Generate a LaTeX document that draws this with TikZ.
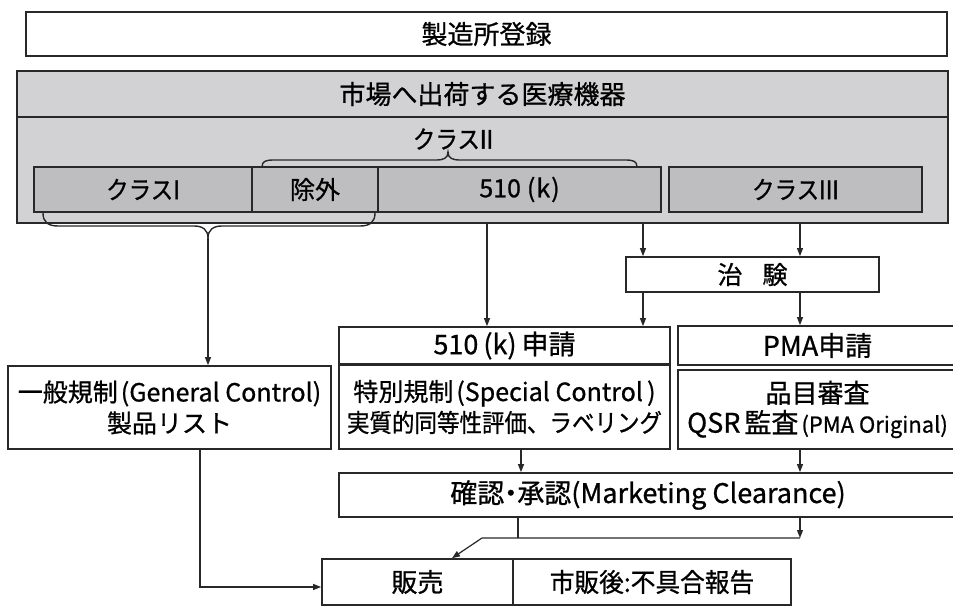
\documentclass[tikz,border=0pt]{standalone}
\usepackage{graphicx}
\usepackage{fontspec}
\setmainfont[FakeBold=0.8]{Noto Sans CJK JP}
\newfontfamily\romfont[FakeBold=2]{Noto Sans CJK JP}
\usetikzlibrary{arrows.meta,calc}
\definecolor{lineC}{RGB}{40,40,40}
\definecolor{grayA}{RGB}{210,210,212}
\definecolor{grayB}{RGB}{190,190,192}
\newcommand\fsz[2]{\fontsize{#1}{#2}\selectfont}
\newcommand\lp{\hspace{3pt}(}
\newcommand\rp{)}
\tikzset{
  wbox/.style={draw=lineC, line width=1.7pt, fill=white, inner sep=0pt, align=center},
  gbox/.style={draw=lineC, line width=1.7pt, fill=grayA, inner sep=0pt, align=center},
  ibox/.style={draw=lineC, line width=1.5pt, fill=grayB, inner sep=0pt, align=center},
  brc/.style={draw=lineC, line width=1.4pt},
  ln/.style={draw=lineC, line width=1.2pt},
  arr/.style={draw=lineC, line width=1.2pt, -{Triangle[length=8pt,width=6pt]}},
}
\begin{document}
\begin{tikzpicture}[x=1pt,y=-1pt]
\useasboundingbox (0,0) rectangle (953,608);
\clip (0,0) rectangle (953,608);
% top registration box
\node[wbox, minimum width=921, minimum height=44, font=\fsz{26}{30}] (reg) at (486.5,34) {製造所登録};
% gray frame
\node[gbox, minimum width=931, minimum height=152] (outer) at (482.5,147) {};
\node[gbox, minimum width=931, minimum height=46, font=\fsz{26}{30}] (hdr) at (482.5,94) {市場へ出荷する医療機器};
\node[inner sep=0pt, font=\fsz{25}{30}] (cls2) at (453,139) {\scalebox{0.9}[1]{クラス{\romfont II}}};
\node[ibox, minimum width=218, minimum height=45, font=\fsz{25}{30}] (cls1) at (143,189.5) {\scalebox{0.9}[1]{クラス{\romfont I}}};
\node[ibox, minimum width=126, minimum height=45, font=\fsz{25}{30}] (excl) at (315,189.5) {除外};
\node[ibox, minimum width=283, minimum height=45, font=\fsz{25}{30}] (k510) at (519.5,189.5) {510\hspace{6pt}(\hspace{1pt}k\hspace{1pt})};
\node[ibox, minimum width=253, minimum height=45, font=\fsz{25}{30}] (cls3) at (795.5,189.5) {\scalebox{0.9}[1]{クラス{\romfont III}}};
% braces
\draw[brc] (262,167) .. controls (262,161) and (266,160) .. (274,160) -- (436,160)
  .. controls (444,160) and (448,158) .. (448,152)
  .. controls (448,158) and (452,160) .. (460,160) -- (625,160)
  .. controls (633,160) and (637,161) .. (637,167);
\draw[brc] (43,213) .. controls (43,222) and (48,226) .. (58,226) -- (194,226)
  .. controls (203,226) and (208,230) .. (208,238)
  .. controls (208,230) and (213,226) .. (222,226) -- (360,226)
  .. controls (370,226) and (375,222) .. (375,213);
\coordinate (btip) at (208,238);
% middle
\node[wbox, minimum width=253, minimum height=35, font=\fsz{25}{30}] (trial) at (752.5,274.5) {治\hspace{20pt}験};
\node[wbox, minimum width=323, minimum height=83, font=\fsz{25}{31}] (gen) at (169.5,407.5) {一般規制\lp General Control\rp\\製品リスト};
\node[wbox, minimum width=331, minimum height=37, font=\fsz{27}{30}] (kapp) at (504.5,345.5) {510\hspace{5pt}(k)\hspace{5pt}申請};
\node[wbox, minimum width=331, minimum height=84, font=\fsz{25}{31}] (kbody) at (504.5,407) {特別規制\lp Special Control\,\rp\\\scalebox{0.9}[1]{実質的同等性評価、ラベリング}};
\node[wbox, minimum width=279, minimum height=39, font=\fsz{27}{30}] (papp) at (817.5,345.5) {PMA申請};
\node[wbox, minimum width=279, minimum height=79, font=\fsz{26}{30}] (pbody) at (817.5,409.5) {品目審査\\{\fsz{27}{30}QSR\hspace{4pt}監査}{\fsz{22}{24}\lp PMA Original\rp}};
% bottom
\node[wbox, minimum width=618, minimum height=44, font=\fsz{27}{30}] (conf) at (648,495) {確認\hspace{-7pt}・\hspace{-7pt}承認(Marketing Clearance)};
\node[wbox, minimum width=191, minimum height=46, font=\fsz{26}{30}] (sales) at (417.5,582) {販売};
\node[wbox, minimum width=278, minimum height=46, font=\fsz{26}{30}] (post) at (652,582) {\scalebox{0.95}[1]{市販後:不具合報告}};
% x positions
\coordinate (xa) at (487,0);
\coordinate (xb) at (643,0);
\coordinate (xc) at (800,0);
\coordinate (xd) at (521,0);
\coordinate (xe) at (518,0);
\coordinate (xf) at (200,0);
\coordinate (j1) at (482,538);
\coordinate (j2) at (800,538);
% connectors
\draw[arr] (btip) -- (btip |- gen.north);
\draw[arr] (xa |- outer.south) -- (xa |- kapp.north);
\draw[arr] (xb |- outer.south) -- (xb |- trial.north);
\draw[arr] (xc |- outer.south) -- (xc |- trial.north);
\draw[arr] (xb |- trial.south) -- (xb |- kapp.north);
\draw[arr] (xc |- trial.south) -- (xc |- papp.north);
\draw[arr] (xd |- kbody.south) -- (xd |- conf.north);
\draw[arr] (xc |- pbody.south) -- (xc |- conf.north);
\draw[ln] (xe |- conf.south) -- (xe |- j1);
\draw[arr] (xc |- conf.south) -- (j2);
\draw[arr] (j2) -- (j1) -- ([xshift=34.5pt]sales.north);
\draw[arr] (xf |- gen.south) |- ([yshift=-5pt]sales.west);
\end{tikzpicture}
\end{document}
